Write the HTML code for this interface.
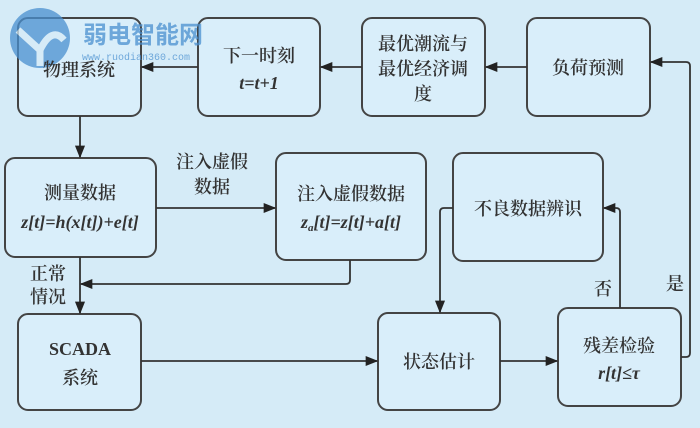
<!DOCTYPE html>
<html><head><meta charset="utf-8"><style>
body{margin:0;width:700px;height:428px;background:#d5ebf7;overflow:hidden}
svg{display:block}
text{font-family:"Liberation Serif","Noto Serif CJK SC",serif;fill:#333;font-size:18px;font-weight:600}
.b{fill:#d9eefa;stroke:#444;stroke-width:2}
.l{stroke:#333;stroke-width:1.8;fill:none}
.i{font-style:italic}
</style></head><body>
<svg width="700" height="428" viewBox="0 0 700 428">
<defs><marker id="a" viewBox="0 0 10 10" refX="9" refY="5" markerWidth="7" markerHeight="7" orient="auto"><path d="M0,1 L10,5 L0,9 z" fill="#222"/></marker></defs>
<rect class="b" x="18" y="18" width="123" height="98" rx="10"/>
<rect class="b" x="198" y="18" width="122" height="98" rx="10"/>
<rect class="b" x="362" y="18" width="123" height="98" rx="10"/>
<rect class="b" x="527" y="18" width="123" height="98" rx="10"/>
<rect class="b" x="5" y="158" width="151" height="99" rx="10"/>
<rect class="b" x="276" y="153" width="150" height="107" rx="10"/>
<rect class="b" x="453" y="153" width="150" height="108" rx="10"/>
<rect class="b" x="18" y="314" width="123" height="96" rx="10"/>
<rect class="b" x="378" y="313" width="122" height="97" rx="10"/>
<rect class="b" x="558" y="308" width="123" height="98" rx="10"/>
<!-- watermark -->
<g opacity="0.75">
<circle cx="40" cy="38" r="30" fill="#4a90d0"/>
<path d="M18,30 L40,50 L40,66 M40,50 Q52,26 64,40" stroke="#d5ebf7" stroke-width="7" fill="none"/>
<text x="83" y="43" style="font-family:'Liberation Sans','Noto Sans CJK SC',sans-serif;font-size:24px;fill:#4a90d0;font-weight:bold">弱电智能网</text>
<text x="82" y="60" style="font-family:'Liberation Mono',monospace;font-size:10px;fill:#4a90d0;font-weight:normal">www.ruodian360.com</text>
</g>
<!-- connectors -->
<line class="l" x1="527" y1="67" x2="486" y2="67" marker-end="url(#a)"/>
<line class="l" x1="362" y1="67" x2="321" y2="67" marker-end="url(#a)"/>
<line class="l" x1="198" y1="67" x2="142" y2="67" marker-end="url(#a)"/>
<line class="l" x1="80" y1="116" x2="80" y2="157" marker-end="url(#a)"/>
<line class="l" x1="156" y1="208" x2="275" y2="208" marker-end="url(#a)"/>
<line class="l" x1="80" y1="257" x2="80" y2="313" marker-end="url(#a)"/>
<path class="l" d="M350,260 V280 Q350,284 346,284 H81" marker-end="url(#a)"/>
<line class="l" x1="141" y1="361" x2="377" y2="361" marker-end="url(#a)"/>
<line class="l" x1="500" y1="361" x2="557" y2="361" marker-end="url(#a)"/>
<path class="l" d="M620,308 V212 Q620,208 616,208 H604" marker-end="url(#a)"/>
<path class="l" d="M453,208 H444 Q440,208 440,212 V312" marker-end="url(#a)"/>
<path class="l" d="M681,357 H686 Q690,357 690,353 V66 Q690,62 686,62 H651" marker-end="url(#a)"/>
<!-- labels -->
<text x="79" y="76" text-anchor="middle" font-size="19">物理系统</text>
<text x="259" y="62" text-anchor="middle" font-size="19">下一时刻</text>
<text x="259" y="89" text-anchor="middle" class="i">t=t+1</text>
<text x="423" y="50" text-anchor="middle" font-size="19">最优潮流与</text>
<text x="423" y="75" text-anchor="middle" font-size="19">最优经济调</text>
<text x="423" y="100" text-anchor="middle" font-size="19">度</text>
<text x="588" y="74" text-anchor="middle" font-size="19">负荷预测</text>
<text x="80" y="199" text-anchor="middle" font-size="19">测量数据</text>
<text x="80" y="228" text-anchor="middle" class="i">z[t]=h(x[t])+e[t]</text>
<text x="351" y="200" text-anchor="middle" font-size="19">注入虚假数据</text>
<text x="351" y="228" text-anchor="middle" class="i">z<tspan font-size="11" dy="3">a</tspan><tspan dy="-3">[t]=z[t]+a[t]</tspan></text>
<text x="528" y="215" text-anchor="middle" font-size="19">不良数据辨识</text>
<text x="212" y="168" text-anchor="middle">注入虚假</text>
<text x="212" y="193" text-anchor="middle">数据</text>
<text x="48" y="280" text-anchor="middle">正常</text>
<text x="48" y="303" text-anchor="middle">情况</text>
<text x="80" y="355" text-anchor="middle" font-weight="bold">SCADA</text>
<text x="80" y="384" text-anchor="middle" font-size="19">系统</text>
<text x="439" y="368" text-anchor="middle" font-size="19">状态估计</text>
<text x="619" y="352" text-anchor="middle" font-size="19">残差检验</text>
<text x="619" y="379" text-anchor="middle" class="i">r[t]≤τ</text>
<text x="603" y="295" text-anchor="middle">否</text>
<text x="675" y="290" text-anchor="middle">是</text>
</svg>
</body></html>
